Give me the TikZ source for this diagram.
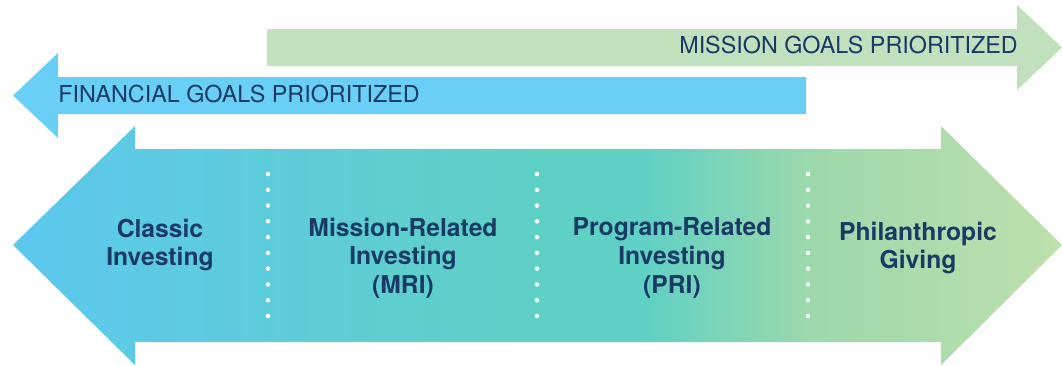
\documentclass[tikz,border=0pt]{standalone}
\usepackage{fontspec}
\setmainfont{TeX Gyre Heros}
\usepackage{tikz}
\definecolor{navy}{HTML}{1A3A66}
\definecolor{finblue}{HTML}{6ACFF6}
\definecolor{missiongreen}{HTML}{C2E0BE}
\definecolor{leftblue}{HTML}{5CC8EF}
\definecolor{midteal}{HTML}{5FD0C4}
\definecolor{softgreen}{HTML}{9CD8AC}
\definecolor{rightgreen}{HTML}{BEE0AC}
\pgfdeclarehorizontalshading{spectrum}{100bp}{color(0bp)=(leftblue); color(25bp)=(leftblue); color(50bp)=(midteal); color(55bp)=(midteal); color(63bp)=(softgreen); color(75bp)=(rightgreen); color(100bp)=(rightgreen)}

\begin{document}
\begin{tikzpicture}[x=0.75pt,y=-0.75pt]
\tikzstyle{every node}+=[inner sep=0pt]
\tikzstyle{goal}=[font=\fontsize{17.5}{20}\selectfont, text=navy]
\tikzstyle{stage}=[font=\fontsize{18.5}{21.5}\selectfont\bfseries, text=navy, align=center]
\useasboundingbox (0,0) rectangle (1062,365);
% mission arrow (top, pointing right)
\fill [missiongreen] (267,29) -- (1017,29) -- (1017,5) -- (1062,47.5) -- (1017,90) -- (1017,66) -- (267,66) -- cycle;
\node [goal, anchor=base east] (mission) at (1018,53) {MISSION GOALS PRIORITIZED};
% financial arrow (pointing left)
\fill [finblue] (806,77) -- (58,77) -- (58,53) -- (13,95.5) -- (58,138) -- (58,114) -- (806,114) -- cycle;
\node [goal, anchor=base west] (financial) at (58,102) {FINANCIAL GOALS PRIORITIZED};
% spectrum double arrow
\shade [shading=spectrum] (13,245) -- (135,126) -- (135,149) -- (941,149) -- (941,126) -- (1062,245) -- (941,365) -- (941,342) -- (135,342) -- (135,365) -- cycle;
\foreach \x in {268,537,808}
  \foreach \i in {0,...,9}
    \fill [white] (\x,174+\i*15.78) circle (1.7pt);
\node [stage] (classic) at (160,245) {Classic\\Investing};
\node [stage] (mri) at (403,258) {Mission-Related\\Investing\\(MRI)};
\node [stage] (pri) at (672,258) {Program-Related\\Investing\\(PRI)};
\node [stage] (giving) at (918,248) {Philanthropic\\Giving};
\end{tikzpicture}
\end{document}
